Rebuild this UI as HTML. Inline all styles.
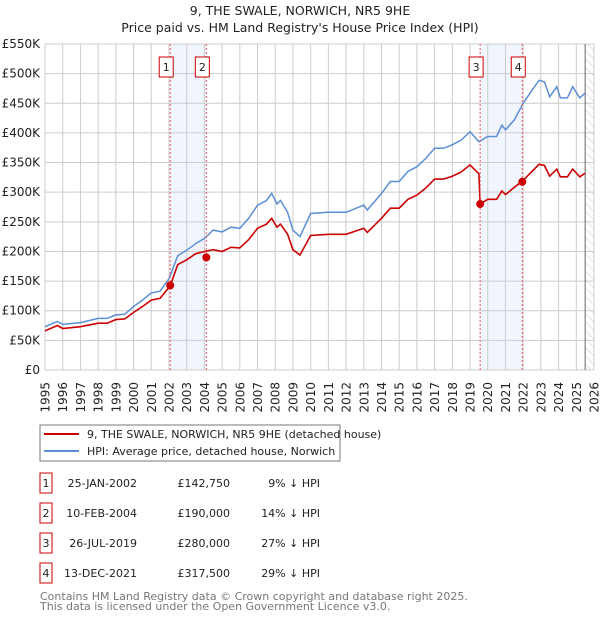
<!DOCTYPE html>
<html><head><meta charset="utf-8">
<style>
body{margin:0;background:#fff;font-family:"DejaVu Sans","Liberation Sans",sans-serif;}
svg{display:block}
text{font-family:"DejaVu Sans","Liberation Sans",sans-serif;}
</style></head>
<body>
<svg id="chart" width="600" height="620">
<defs>
<pattern id="hatch" width="6" height="6" patternUnits="userSpaceOnUse" patternTransform="rotate(-45)">
<line x1="0" y1="0" x2="0" y2="6" stroke="#ccc" stroke-width="1"/></pattern>
</defs>
<text x="300" y="15" text-anchor="middle" font-size="12.5" fill="#222">9, THE SWALE, NORWICH, NR5 9HE</text>
<text x="300" y="32" text-anchor="middle" font-size="12.5" fill="#222">Price paid vs. HM Land Registry's House Price Index (HPI)</text>
<g id="grid"></g>
<g id="marks"></g>
<g id="axes"></g>
<rect x="40" y="425" width="300" height="36" fill="#fff" stroke="#777"/>
<line x1="44" y1="434" x2="79" y2="434" stroke="#cc0000" stroke-width="2"/>
<text x="87" y="438" font-size="11" fill="#222">9, THE SWALE, NORWICH, NR5 9HE (detached house)</text>
<line x1="44" y1="451" x2="79" y2="451" stroke="#5b8fd4" stroke-width="2"/>
<text x="87" y="455" font-size="11" fill="#222">HPI: Average price, detached house, Norwich</text>
<g id="table" font-size="11" fill="#222"></g>
<text x="40" y="600" font-size="11" fill="#777">Contains HM Land Registry data © Crown copyright and database right 2025.</text>
<text x="40" y="610" font-size="11" fill="#777">This data is licensed under the Open Government Licence v3.0.</text>
</svg>
<script>
const years=[1995,1995.7,1996,1997,1998,1998.5,1999,1999.5,2000,2000.5,2001,2001.5,2002,2002.5,2003,2003.5,2004,2004.5,2005,2005.5,2006,2006.5,2007,2007.5,2007.8,2008.1,2008.3,2008.7,2009,2009.4,2010,2011,2012,2013,2013.2,2014,2014.5,2015,2015.5,2016,2016.5,2017,2017.5,2018,2018.5,2019,2019.5,2020,2020.5,2020.8,2021,2021.5,2022,2022.5,2022.9,2023.2,2023.5,2023.9,2024.1,2024.5,2024.8,2025.2,2025.5];
const hpiValues=[73,82,77,80,87,87,93,94,107,118,130,133,154,193,202,213,222,236,233,241,239,256,278,286,298,280,286,266,236,225,264,266,266,278,270,298,318,318,335,343,357,374,374,380,388,402,385,394,394,413,405,422,450,472,489,486,461,478,459,459,478,459,467];
const redYears=[1995,1995.7,1996,1997,1998,1998.5,1999,1999.5,2000,2000.5,2001,2001.5,2002.07,2002.5,2003,2003.5,2004,2004.5,2005,2005.5,2006,2006.5,2007,2007.5,2007.8,2008.1,2008.3,2008.7,2009,2009.4,2010,2011,2012,2013,2013.2,2014,2014.5,2015,2015.5,2016,2016.5,2017,2017.5,2018,2018.5,2019,2019.5,2019.57,2020,2020.5,2020.8,2021,2021.5,2022,2022.5,2022.9,2023.2,2023.5,2023.9,2024.1,2024.5,2024.8,2025.2,2025.5];
const redValues=[66,75,70,73,79,79,85,86,97,107,118,121,142,178,186,196,200,203,200,207,206,220,239,246,256,241,246,229,203,194,227,229,229,239,232,256,273,273,288,295,307,322,322,327,334,346,331,280,288,288,302,296,308,320,335,347,345,327,339,326,326,339,326,332];
const saleLabels=["1","2","3","4"];
const saleYears=[2002.07,2004.11,2019.57,2021.95];
const salePrices=[142.75,190,280,317.5];
const saleDates=["25-JAN-2002","10-FEB-2004","26-JUL-2019","13-DEC-2021"];
const salePriceText=["£142,750","£190,000","£280,000","£317,500"];
const saleHpiText=["9% ↓ HPI","14% ↓ HPI","27% ↓ HPI","29% ↓ HPI"];
const yTicks=[0,50,100,150,200,250,300,350,400,450,500,550];
const yTickLabels=["£0","£50K","£100K","£150K","£200K","£250K","£300K","£350K","£400K","£450K","£500K","£550K"];
const xTicks=[1995,1996,1997,1998,1999,2000,2001,2002,2003,2004,2005,2006,2007,2008,2009,2010,2011,2012,2013,2014,2015,2016,2017,2018,2019,2020,2021,2022,2023,2024,2025,2026];

const X0=45,X1=594,Y0=370,Y1=44;
const xs=y=>X0+(y-1995)/(2026-1995)*(X1-X0);
const ys=v=>Y0-v/550*(Y0-Y1);
const NS="http://www.w3.org/2000/svg";
function mk(tag,attrs,parent){const e=document.createElementNS(NS,tag);for(const k in attrs)e.setAttribute(k,attrs[k]);parent.appendChild(e);return e;}
const grid=document.getElementById('grid'),marks=document.getElementById('marks'),axes=document.getElementById('axes'),table=document.getElementById('table');

for(let i=0;i<saleYears.length;i+=2){
 const r=mk('rect',{x:xs(saleYears[i]),y:Y1,width:xs(saleYears[i+1])-xs(saleYears[i]),height:Y0-Y1,fill:'#eef3fc',opacity:0.8},grid);
 
 
}
const hx=xs(2025.5);
const hr=mk('rect',{x:hx,y:Y1,width:X1-hx,height:Y0-Y1,fill:'url(#hatch)'},grid);


yTicks.forEach((t,i)=>{
 const l=mk('line',{x1:X0,x2:X1,y1:ys(t),y2:ys(t),stroke:'#ccc','stroke-width':1},grid);
 
 
 const tx=mk('text',{x:40,y:ys(t)+4,'text-anchor':'end','font-size':'12',fill:'#222'},axes);
 tx.textContent=yTickLabels[i];
 
 
});
xTicks.forEach(t=>{
 const l=mk('line',{x1:xs(t),x2:xs(t),y1:Y1,y2:Y0,stroke:'#ccc','stroke-width':1},grid);
 
 
 const tx=mk('text',{x:0,y:0,'text-anchor':'end','font-size':'12',fill:'#222',transform:`translate(${xs(t)+4.5},382) rotate(-90)`},axes);
 tx.textContent=t;
 
 
});
const vl=mk('line',{x1:hx,x2:hx,y1:Y1,y2:Y0,stroke:'#666','stroke-width':1},grid);



function pathOf(xa,va){return xa.map((y,i)=>(i?'L':'M')+xs(y).toFixed(1)+','+ys(va[i]).toFixed(1)).join('');}
const hp=mk('path',{d:pathOf(years,hpiValues),fill:'none',stroke:'#5b8fd4','stroke-width':1.5},marks);


const rp=mk('path',{d:pathOf(redYears,redValues),fill:'none',stroke:'#cc0000','stroke-width':1.6},marks);



saleYears.forEach((y,i)=>{
 const x=xs(y);
 const l=mk('line',{x1:x,x2:x,y1:Y1,y2:Y0,stroke:'#e55','stroke-width':1,'stroke-dasharray':'2,2'},marks);
 
 
 const c=mk('circle',{cx:x,cy:ys(salePrices[i]),r:4,fill:'#cc0000'},marks);
 
 
 const b=mk('rect',{x:x-11,y:57,width:14,height:20,fill:'#fff',stroke:'#cc0000'},marks);
 
 
 const t=mk('text',{x:x-4,y:71,'text-anchor':'middle','font-size':'11',fill:'#222'},marks);
 t.textContent=saleLabels[i];
 
 
 const ry=483+i*30;
 const tb=mk('rect',{x:40,y:ry-10,width:12,height:20,fill:'#fff',stroke:'#cc0000'},table);
 
 
 const tn=mk('text',{x:46,y:ry+4,'text-anchor':'middle'},table);tn.textContent=saleLabels[i];
 
 
 const td=mk('text',{x:137,y:ry+4,'text-anchor':'end'},table);td.textContent=saleDates[i];
 
 
 const tp=mk('text',{x:230,y:ry+4,'text-anchor':'end'},table);tp.textContent=salePriceText[i];
 
 
 const th=mk('text',{x:320,y:ry+4,'text-anchor':'end'},table);th.textContent=saleHpiText[i];
 
 
});
</script>
</body></html>
